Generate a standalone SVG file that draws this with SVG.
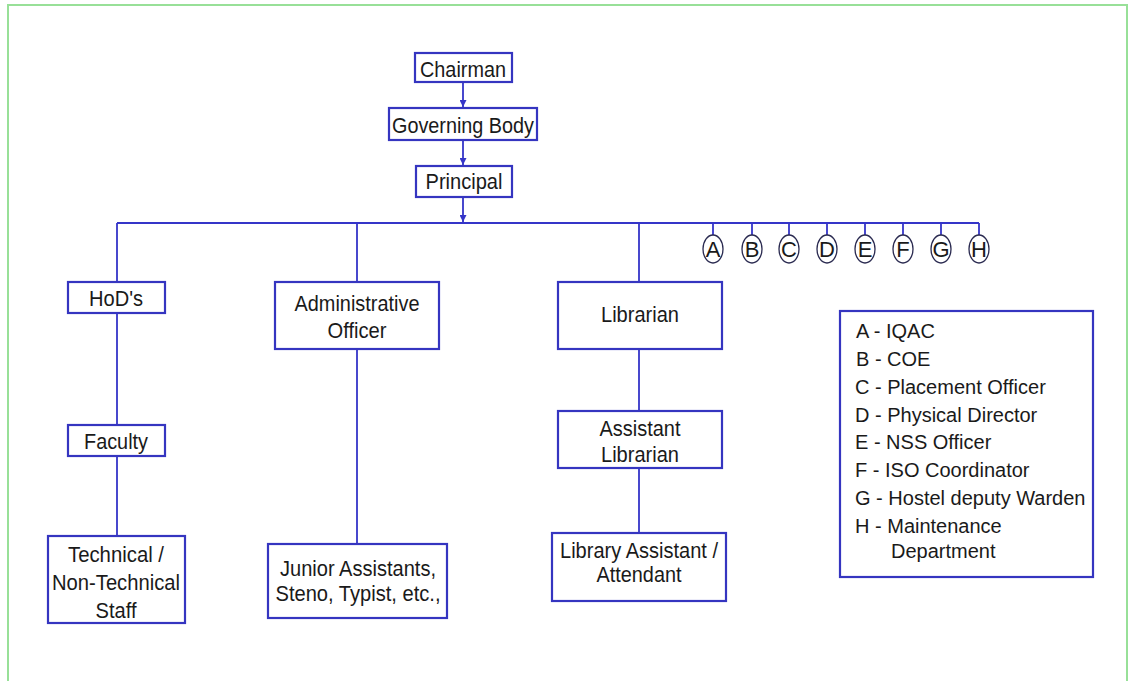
<svg xmlns="http://www.w3.org/2000/svg" width="1129" height="681" viewBox="0 0 1129 681">
<defs>
<style>
.box{fill:#fff;stroke:#3535c0;stroke-width:2.2}
.ln{stroke:#3535c8;stroke-width:1.8;fill:none}
.t{font-family:"Liberation Sans",Arial,sans-serif;font-size:22px;fill:#1a1a1a;text-anchor:middle}
.lg{font-family:"Liberation Sans",Arial,sans-serif;font-size:20px;fill:#1a1a1a}
.c{fill:#fff;stroke:#2a2a50;stroke-width:1.3}
</style>
<marker id="ar" viewBox="0 0 10 10" refX="10" refY="5" markerWidth="10" markerHeight="7" orient="auto" markerUnits="userSpaceOnUse">
<path d="M0,0 L10,5 L0,10 z" fill="#3535c8"/>
</marker>
</defs>
<rect x="0" y="0" width="1129" height="681" fill="#fff"/>
<rect x="8" y="5" width="1119" height="690" fill="none" stroke="#98e098" stroke-width="2"/>
<g id="connectors">
<line class="ln" x1="463" y1="82" x2="463" y2="107" marker-end="url(#ar)"/>
<line class="ln" x1="463" y1="140" x2="463" y2="165" marker-end="url(#ar)"/>
<line class="ln" x1="463" y1="197" x2="463" y2="222" marker-end="url(#ar)"/>
<line class="ln" x1="117" y1="223" x2="979" y2="223"/>
<line class="ln" x1="117" y1="223" x2="117" y2="282"/>
<line class="ln" x1="357" y1="223" x2="357" y2="282"/>
<line class="ln" x1="639" y1="223" x2="639" y2="282"/>
<line class="ln" x1="713" y1="223" x2="713" y2="235"/>
<line class="ln" x1="752" y1="223" x2="752" y2="235"/>
<line class="ln" x1="789" y1="223" x2="789" y2="235"/>
<line class="ln" x1="827" y1="223" x2="827" y2="235"/>
<line class="ln" x1="865" y1="223" x2="865" y2="235"/>
<line class="ln" x1="903" y1="223" x2="903" y2="235"/>
<line class="ln" x1="941" y1="223" x2="941" y2="235"/>
<line class="ln" x1="979" y1="223" x2="979" y2="235"/>
<line class="ln" x1="117" y1="313" x2="117" y2="425"/>
<line class="ln" x1="117" y1="456" x2="117" y2="536"/>
<line class="ln" x1="357" y1="349" x2="357" y2="544"/>
<line class="ln" x1="639" y1="349" x2="639" y2="411"/>
<line class="ln" x1="639" y1="468" x2="639" y2="533"/>
</g>
<g id="chairman"><rect class="box" x="415" y="53" width="97" height="29"/><text class="t" x="463" y="77" textLength="86" lengthAdjust="spacingAndGlyphs">Chairman</text></g>
<g id="governing-body"><rect class="box" x="389" y="108" width="148" height="32"/><text class="t" x="463" y="133" textLength="142" lengthAdjust="spacingAndGlyphs">Governing Body</text></g>
<g id="principal"><rect class="box" x="416" y="166" width="96" height="31"/><text class="t" x="464" y="189" textLength="77" lengthAdjust="spacingAndGlyphs">Principal</text></g>
<g id="hods"><rect class="box" x="68" y="282" width="97" height="31"/><text class="t" x="116" y="306" font-size="23" textLength="54" lengthAdjust="spacingAndGlyphs">HoD's</text></g>
<g id="admin"><rect class="box" x="275" y="282" width="164" height="67"/><text class="t" x="357" y="311" textLength="125" lengthAdjust="spacingAndGlyphs">Administrative</text><text class="t" x="357" y="338" textLength="59" lengthAdjust="spacingAndGlyphs">Officer</text></g>
<g id="librarian"><rect class="box" x="558" y="282" width="164" height="67"/><text class="t" x="640" y="322" font-size="25" textLength="78" lengthAdjust="spacingAndGlyphs">Librarian</text></g>
<g id="asst-librarian"><rect class="box" x="558" y="411" width="164" height="57"/><text class="t" x="640" y="436" font-size="24" textLength="81" lengthAdjust="spacingAndGlyphs">Assistant</text><text class="t" x="640" y="462" font-size="24" textLength="78" lengthAdjust="spacingAndGlyphs">Librarian</text></g>
<g id="faculty"><rect class="box" x="68" y="425" width="97" height="31"/><text class="t" x="116" y="449" font-size="23" textLength="64" lengthAdjust="spacingAndGlyphs">Faculty</text></g>
<g id="technical"><rect class="box" x="48" y="536" width="137" height="87"/><text class="t" x="116" y="562" font-size="25" textLength="96" lengthAdjust="spacingAndGlyphs">Technical /</text><text class="t" x="116" y="590" font-size="25" textLength="128" lengthAdjust="spacingAndGlyphs">Non-Technical</text><text class="t" x="116" y="618" font-size="25" textLength="41" lengthAdjust="spacingAndGlyphs">Staff</text></g>
<g id="junior"><rect class="box" x="268" y="544" width="179" height="74"/><text class="t" x="358" y="576" font-size="26" textLength="156" lengthAdjust="spacingAndGlyphs">Junior Assistants,</text><text class="t" x="358" y="601" font-size="26" textLength="165" lengthAdjust="spacingAndGlyphs">Steno, Typist, etc.,</text></g>
<g id="library-assistant"><rect class="box" x="552" y="533" width="174" height="68"/><text class="t" x="639" y="558" font-size="23" textLength="158" lengthAdjust="spacingAndGlyphs">Library Assistant /</text><text class="t" x="639" y="582" font-size="23" textLength="85" lengthAdjust="spacingAndGlyphs">Attendant</text></g>
<g id="circle-a"><ellipse class="c" cx="713" cy="249" rx="10" ry="14"/><text class="t" x="713" y="257">A</text></g>
<g id="circle-b"><ellipse class="c" cx="752" cy="249" rx="10" ry="14"/><text class="t" x="752" y="257">B</text></g>
<g id="circle-c"><ellipse class="c" cx="789" cy="249" rx="10" ry="14"/><text class="t" x="789" y="257">C</text></g>
<g id="circle-d"><ellipse class="c" cx="827" cy="249" rx="10" ry="14"/><text class="t" x="827" y="257">D</text></g>
<g id="circle-e"><ellipse class="c" cx="865" cy="249" rx="10" ry="14"/><text class="t" x="865" y="257">E</text></g>
<g id="circle-f"><ellipse class="c" cx="903" cy="249" rx="10" ry="14"/><text class="t" x="903" y="257">F</text></g>
<g id="circle-g"><ellipse class="c" cx="941" cy="249" rx="10" ry="14"/><text class="t" x="941" y="257">G</text></g>
<g id="circle-h"><ellipse class="c" cx="979" cy="249" rx="10" ry="14"/><text class="t" x="979" y="257">H</text></g>
<g id="legend"><rect class="box" x="840" y="311" width="253" height="266"/>
<text class="lg" x="856" y="338">A - IQAC</text>
<text class="lg" x="856" y="366">B - COE</text>
<text class="lg" x="855" y="394">C - Placement Officer</text>
<text class="lg" x="855" y="422">D - Physical Director</text>
<text class="lg" x="855" y="449">E - NSS Officer</text>
<text class="lg" x="855" y="477">F - ISO Coordinator</text>
<text class="lg" x="855" y="505">G - Hostel deputy Warden</text>
<text class="lg" x="855" y="533">H - Maintenance</text>
<text class="lg" x="891" y="558">Department</text>
</g>
</svg>
